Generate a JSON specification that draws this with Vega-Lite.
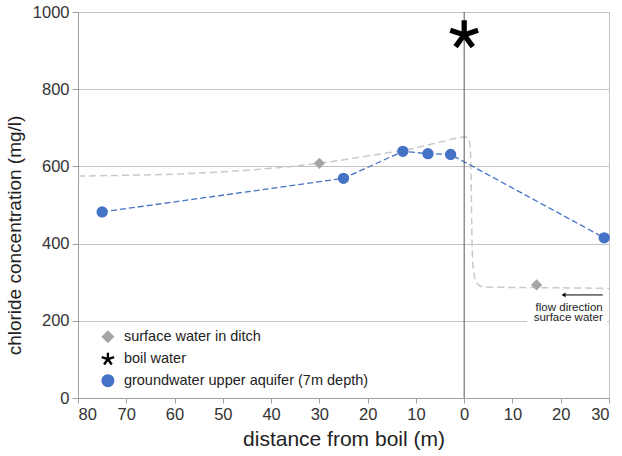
{
  "$schema": "https://vega.github.io/schema/vega-lite/v6.json",
  "width": 531,
  "height": 386,
  "autosize": {"type": "none"},
  "padding": {"left": 78, "top": 12, "right": 13, "bottom": 58},
  "config": {
    "font": "Liberation Sans",
    "view": {"stroke": "#c4c4c4", "strokeWidth": 1},
    "axis": {
      "labelFont": "Liberation Sans",
      "titleFont": "Liberation Sans",
      "labelColor": "#333333",
      "titleColor": "#222222",
      "titleFontWeight": "normal",
      "domainColor": "#a0a0a0",
      "tickColor": "#a0a0a0",
      "gridColor": "#c4c4c4"
    },
    "legend": {"labelFont": "Liberation Sans"}
  },
  "datasets": {
    "points": [
      {"distance": -30, "chloride": 608, "series": "surface water in ditch"},
      {"distance": 15, "chloride": 293, "series": "surface water in ditch"},
      {"distance": 0, "chloride": 941, "series": "boil water"},
      {"distance": -75, "chloride": 482, "series": "groundwater upper aquifer (7m depth)"},
      {"distance": -25, "chloride": 569, "series": "groundwater upper aquifer (7m depth)"},
      {"distance": -12.7, "chloride": 639, "series": "groundwater upper aquifer (7m depth)"},
      {"distance": -7.5, "chloride": 633, "series": "groundwater upper aquifer (7m depth)"},
      {"distance": -2.8, "chloride": 631, "series": "groundwater upper aquifer (7m depth)"},
      {"distance": 29, "chloride": 415, "series": "groundwater upper aquifer (7m depth)"}
    ],
    "curve": [
      {"distance": -80, "chloride": 575},
      {"distance": -70, "chloride": 577},
      {"distance": -60, "chloride": 580},
      {"distance": -50, "chloride": 586},
      {"distance": -40, "chloride": 595},
      {"distance": -30, "chloride": 608},
      {"distance": -20, "chloride": 627},
      {"distance": -10, "chloride": 648},
      {"distance": -5, "chloride": 663},
      {"distance": -2, "chloride": 672},
      {"distance": 0, "chloride": 676},
      {"distance": 0.8, "chloride": 674},
      {"distance": 1.2, "chloride": 655},
      {"distance": 1.45, "chloride": 560},
      {"distance": 1.6, "chloride": 420},
      {"distance": 1.9, "chloride": 330},
      {"distance": 2.6, "chloride": 298},
      {"distance": 3.6, "chloride": 289},
      {"distance": 6, "chloride": 287},
      {"distance": 15, "chloride": 286},
      {"distance": 30, "chloride": 284}
    ],
    "boilLine": [
      {"distance": 0, "chloride": 0, "top": 1000}
    ],
    "note": [
      {"x": 28.7, "x2": 21, "y": 267, "tx": 28.7, "ty": 226, "head": 20.6, "bx": 13, "bx2": 29.6, "by": 193, "by2": 207}
    ]
  },
  "layer": [
    {
      "data": {"name": "curve"},
      "mark": {"type": "line", "color": "#c9c9c9", "strokeWidth": 1.5, "strokeDash": [7, 4], "interpolate": "monotone"},
      "encoding": {
        "x": {
          "field": "distance",
          "type": "quantitative",
          "scale": {"domain": [-80, 30], "nice": false, "zero": false},
          "axis": {
            "title": "distance from boil (m)",
            "titleFontSize": 21,
            "titlePadding": 6,
            "labelFontSize": 16.5,
            "labelPadding": 3,
            "tickSize": 5,
            "values": [-80, -70, -60, -50, -40, -30, -20, -10, 0, 10, 20, 30],
            "labelExpr": "abs(datum.value)",
            "grid": false
          }
        },
        "y": {
          "field": "chloride",
          "type": "quantitative",
          "scale": {"domain": [0, 1000], "nice": false},
          "axis": {
            "title": "chloride concentration (mg/l)",
            "titleFontSize": 19,
            "titleX": -54,
            "titleY": 223,
            "titleAlign": "center",
            "labelFontSize": 16.5,
            "labelPadding": 3,
            "tickSize": 6,
            "format": "d",
            "values": [0, 200, 400, 600, 800, 1000],
            "grid": true
          }
        }
      }
    },
    {
      "data": {"name": "points"},
      "transform": [{"filter": "datum.series === 'groundwater upper aquifer (7m depth)'"}],
      "mark": {"type": "line", "color": "#4472c4", "strokeWidth": 1.3, "strokeDash": [6, 3]},
      "encoding": {
        "x": {"field": "distance", "type": "quantitative"},
        "y": {"field": "chloride", "type": "quantitative"}
      }
    },
    {
      "data": {"name": "boilLine"},
      "mark": {"type": "rule", "color": "#5a5a5a", "strokeWidth": 1},
      "encoding": {
        "x": {"field": "distance", "type": "quantitative"},
        "y": {"field": "chloride", "type": "quantitative"},
        "y2": {"field": "top"}
      }
    },
    {
      "data": {"name": "note"},
      "mark": {"type": "rect", "fill": "white"},
      "encoding": {
        "x": {"field": "bx", "type": "quantitative"},
        "x2": {"field": "bx2"},
        "y": {"field": "by", "type": "quantitative"},
        "y2": {"field": "by2"}
      }
    },
    {
      "data": {"name": "points"},
      "mark": {"type": "point", "filled": true, "opacity": 1},
      "encoding": {
        "x": {"field": "distance", "type": "quantitative"},
        "y": {"field": "chloride", "type": "quantitative"},
        "color": {
          "field": "series",
          "type": "nominal",
          "scale": {
            "domain": ["surface water in ditch", "boil water", "groundwater upper aquifer (7m depth)"],
            "range": ["#a5a5a5", "#000000", "#4472c4"]
          },
          "legend": {
            "title": null,
            "orient": "none",
            "legendX": 22.4,
            "legendY": 317.2,
            "padding": 0,
            "rowPadding": 6.5,
            "labelFontSize": 14.5,
            "labelLimit": 400,
            "labelColor": "#222222",
            "labelOffset": 8.5,
            "symbolSize": 170
          }
        },
        "shape": {
          "field": "series",
          "type": "nominal",
          "scale": {
            "domain": ["surface water in ditch", "boil water", "groundwater upper aquifer (7m depth)"],
            "range": ["diamond", "M-0.18,-1L0.18,-1L0.18,-0.248L0.895,-0.48L1.007,-0.138L0.291,0.095L0.734,0.703L0.442,0.915L0,0.306L-0.442,0.915L-0.734,0.703L-0.291,0.095L-1.007,-0.138L-0.895,-0.48L-0.18,-0.248Z", "circle"]
          },
          "legend": {
            "title": null,
            "orient": "none",
            "legendX": 22.4,
            "legendY": 317.2,
            "padding": 0,
            "rowPadding": 6.5,
            "labelFontSize": 14.5,
            "labelLimit": 400,
            "labelColor": "#222222",
            "labelOffset": 8.5,
            "symbolSize": 170
          }
        },
        "size": {
          "condition": {"test": "datum.series === 'boil water'", "value": 855},
          "value": 128
        }
      }
    },
    {
      "data": {"name": "note"},
      "mark": {"type": "text", "align": "right", "baseline": "alphabetic", "fontSize": 11.5, "color": "#222222", "lineHeight": 10.5},
      "encoding": {
        "x": {"field": "tx", "type": "quantitative"},
        "y": {"field": "ty", "type": "quantitative"},
        "text": {"value": ["flow direction", "surface water"]}
      }
    },
    {
      "data": {"name": "note"},
      "mark": {"type": "rule", "color": "#000000", "strokeWidth": 1},
      "encoding": {
        "x": {"field": "x", "type": "quantitative"},
        "x2": {"field": "x2"},
        "y": {"field": "y", "type": "quantitative"}
      }
    },
    {
      "data": {"name": "note"},
      "mark": {"type": "point", "shape": "triangle-left", "filled": true, "color": "#000000", "size": 22, "opacity": 1},
      "encoding": {
        "x": {"field": "head", "type": "quantitative"},
        "y": {"field": "y", "type": "quantitative"}
      }
    }
  ]
}
